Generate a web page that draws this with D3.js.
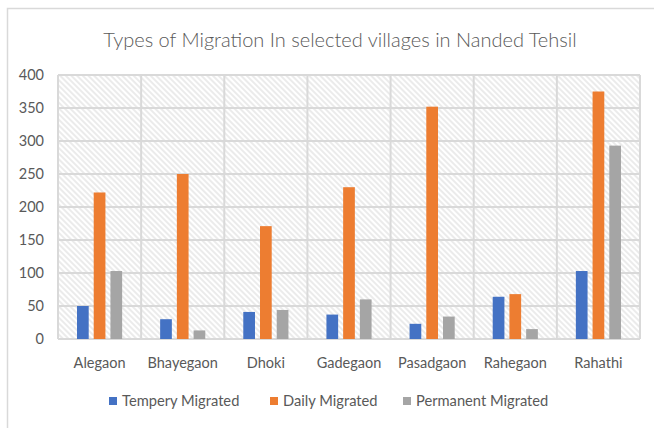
<!DOCTYPE html>
<html>
<head>
<meta charset="utf-8">
<script src="https://cdn.jsdelivr.net/npm/d3@7"></script>
<style>
  html, body { margin: 0; padding: 0; background: #fff; }
  svg text { font-family: Lato, "Open Sans", sans-serif; fill: #595959; }
</style>
</head>
<body>
<svg id="chart" width="654" height="428"></svg>
<script>
// Villages and migration counts
const villages = ["Alegaon", "Bhayegaon", "Dhoki", "Gadegaon", "Pasadgaon", "Rahegaon", "Rahathi"];
const seriesNames = ["Tempery Migrated", "Daily Migrated", "Permanent Migrated"];
const temperyMigrated = [50, 30, 41, 37, 23, 64, 103];
const dailyMigrated = [222, 250, 171, 230, 352, 68, 375];
const permanentMigrated = [103, 13, 44, 60, 34, 15, 293];
const yTicks = [0, 50, 100, 150, 200, 250, 300, 350, 400];
const colors = ["#4472C4", "#ED7D31", "#A5A5A5"];

const series = [temperyMigrated, dailyMigrated, permanentMigrated];
const rows = villages.map((v, i) => ({ village: v, values: series.map(s => s[i]) }));

const svg = d3.select("#chart");
const margin = { left: 58, right: 14, top: 75, bottom: 89 };
const W = 654, H = 428;
const plotW = W - margin.left - margin.right;
const plotH = H - margin.top - margin.bottom;

// Outer chart frame
svg.append("rect").attr("x", 7.5).attr("y", 8.5).attr("width", 680).attr("height", 460)
  .attr("fill", "none").attr("stroke", "#d9d9d9").attr("stroke-width", 1.5);

// Diagonal hatch fill behind the plot
const defs = svg.append("defs");
const pat = defs.append("pattern").attr("id", "hatch").attr("patternUnits", "userSpaceOnUse")
  .attr("width", 4).attr("height", 4).attr("patternTransform", "rotate(-45)");
pat.append("rect").attr("width", 4).attr("height", 4).attr("fill", "#ffffff");
pat.append("line").attr("x1", 1).attr("y1", 0).attr("x2", 1).attr("y2", 4)
  .attr("stroke", "#e3e3e3").attr("stroke-width", 1.4);

const g = svg.append("g").attr("transform", `translate(${margin.left},${margin.top})`);

const x0 = d3.scaleBand().domain(villages).range([0, plotW]).paddingInner(0).paddingOuter(0);
const x1 = d3.scaleBand().domain(seriesNames).range([19, x0.bandwidth() - 19]).paddingInner(0.3);
const y = d3.scaleLinear().domain([0, 400]).range([plotH, 0]);

g.append("rect").attr("width", plotW).attr("height", plotH).attr("fill", "url(#hatch)");

// Gridlines
g.append("g").selectAll("line.h").data(yTicks).join("line")
  .attr("x1", 0).attr("x2", plotW).attr("y1", d => y(d)).attr("y2", d => y(d))
  .attr("stroke", "#d9d9d9").attr("stroke-width", 2);
const bounds = villages.map(v => x0(v)).concat([plotW]);
g.append("g").selectAll("line.v").data(bounds).join("line")
  .attr("x1", d => d).attr("x2", d => d).attr("y1", 0).attr("y2", plotH)
  .attr("stroke", "#d9d9d9").attr("stroke-width", 2);

// Bars
const groups = g.append("g").selectAll("g").data(rows).join("g")
  .attr("transform", d => `translate(${x0(d.village)},0)`);
groups.selectAll("rect").data(d => d.values.map((v, i) => ({ key: seriesNames[i], value: v, i })))
  .join("rect")
  .attr("x", d => x1(d.key)).attr("width", x1.bandwidth())
  .attr("y", d => y(d.value)).attr("height", d => y(0) - y(d.value))
  .attr("fill", d => colors[d.i]);

// Y axis labels
const yAxis = g.append("g").call(d3.axisLeft(y).tickValues(yTicks).tickSize(0).tickPadding(14));
yAxis.select(".domain").remove();
yAxis.selectAll("text").style("font-size", "14.5px").attr("fill", "#595959");

// X axis labels
const xAxis = g.append("g").attr("transform", `translate(0,${plotH})`)
  .call(d3.axisBottom(x0).tickSize(0).tickPadding(19));
xAxis.select(".domain").remove();
xAxis.selectAll("text").style("font-size", "14.5px").attr("fill", "#595959");

// Title
svg.append("text").attr("x", 340).attr("y", 47).attr("text-anchor", "middle")
  .style("font-size", "20px").style("font-weight", 300)
  .text("Types of Migration In selected villages in Nanded Tehsil");

// Legend
const legendX = [109, 270, 403];
const leg = svg.append("g").selectAll("g").data(seriesNames).join("g")
  .attr("transform", (d, i) => `translate(${legendX[i]},397)`);
leg.append("rect").attr("width", 8).attr("height", 8).attr("fill", (d, i) => colors[i]);
leg.append("text").attr("x", 13).attr("y", 9).style("font-size", "14.7px").text(d => d);
</script>
</body>
</html>
